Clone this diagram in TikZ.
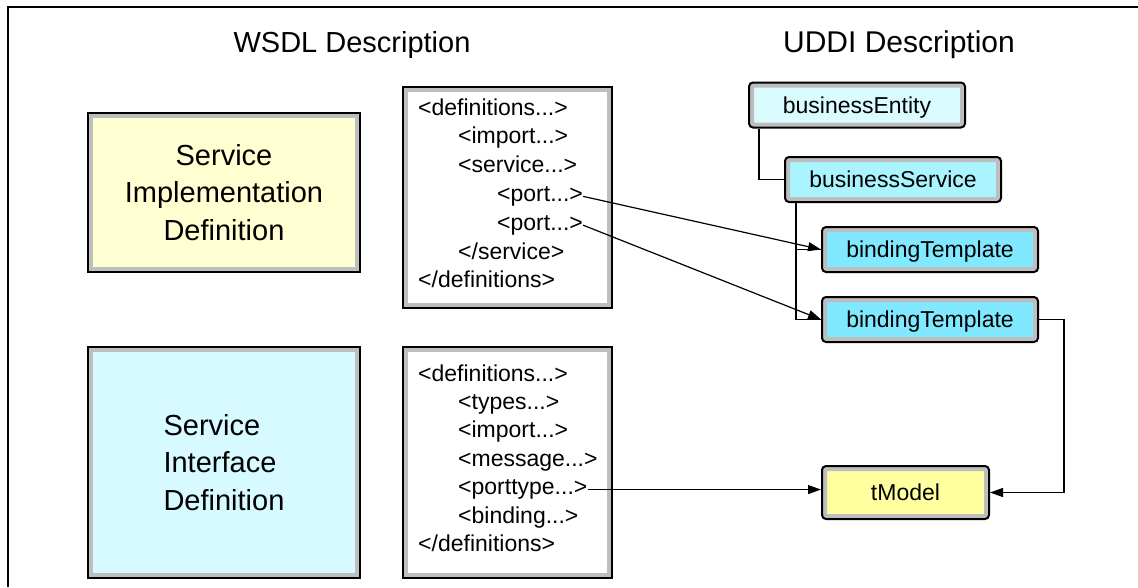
\documentclass[tikz,border=0pt]{standalone}
\usepackage{fontspec}
\setmainfont{Liberation Sans}
\usetikzlibrary{positioning, arrows.meta, calc}
\definecolor{wsimpl}{HTML}{FFFFD2}
\definecolor{wsiface}{HTML}{D6FAFF}
\definecolor{udentity}{HTML}{DAFCFF}
\definecolor{udservice}{HTML}{A9F4FF}
\definecolor{udbinding}{HTML}{80E9FF}
\definecolor{udtmodel}{HTML}{FFFFA0}
\definecolor{wsband}{HTML}{BEBEBE}

\tikzset{
  band/.style={path picture={\draw[wsband, line width=10, #1]
      (path picture bounding box.south west) rectangle (path picture bounding box.north east);}},
  wsbox/.style={draw=black, line width=2, band={}, inner sep=0},
  udbox/.style={draw=black, line width=2, rounded corners=4, band={rounded corners=4},
      inner sep=0, text height=17, text depth=1, minimum width=216, minimum height=45,
      font=\fontsize{23}{28}\selectfont},
  codeline/.style={anchor=base west, inner sep=0, font=\fontsize{23}{28}\selectfont},
  bigtext/.style={font=\fontsize{29}{37.5}\selectfont},
  conn/.style={line width=1.2},
  arr/.style={conn, -{Triangle[length=13, width=9]}}
}

\begin{document}
\begin{tikzpicture}[x=1pt, y=-1pt]
  \useasboundingbox (0,0) rectangle (1138,587);
  \draw[line width=2] (8,587) -- (8,7) -- (1138,7);

  % titles
  \node[bigtext] (wsdltitle) at (352,45) {WSDL Description};
  \node[bigtext, font=\fontsize{30}{37.5}\selectfont] (udditle) at (899,45) {UDDI Description};

  % WSDL side
  \node[wsbox, fill=wsimpl, minimum width=272, minimum height=159, bigtext, align=center]
    (impl) at (224,192.5) {Service\\Implementation\\Definition};
  \node[wsbox, fill=wsiface, minimum width=272, minimum height=231, bigtext, align=left]
    (iface) at (224,462.5) {Service\\Interface\\Definition};

  \node[wsbox, fill=white, minimum width=209, minimum height=221] (implcode) at (507.5,197.5) {};
  \node[codeline] (idefs) at (418,115) {<definitions...>};
  \node[codeline] (iimport) at (458,143.8) {<import...>};
  \node[codeline] (iservice) at (458,172.6) {<service...>};
  \node[codeline] (iport1) at (497,201.4) {<port...>};
  \node[codeline] (iport2) at (497,230.2) {<port...>};
  \node[codeline] (iservend) at (458,259) {</service>};
  \node[codeline] (idefsend) at (418,287.8) {</definitions>};

  \node[wsbox, fill=white, minimum width=209, minimum height=231] (ifacecode) at (507.5,462.5) {};
  \node[codeline] (fdefs) at (418,381) {<definitions...>};
  \node[codeline] (ftypes) at (458,409.4) {<types...>};
  \node[codeline] (fimport) at (458,437.8) {<import...>};
  \node[codeline] (fmessage) at (458,466.2) {<message...>};
  \node[codeline] (fporttype) at (458,494.6) {<porttype...>};
  \node[codeline] (fbinding) at (458,523) {<binding...>};
  \node[codeline] (fdefsend) at (418,551.4) {</definitions>};

  % UDDI side
  \node[udbox, fill=udentity] (entity) at (857,105) {businessEntity};
  \node[udbox, fill=udservice] (bservice) at (893,179.5) {businessService};
  \node[udbox, fill=udbinding] (bt1) at (930,249.5) {bindingTemplate};
  \node[udbox, fill=udbinding] (bt2) at (930,319.5) {bindingTemplate};
  \node[udbox, fill=udtmodel, minimum width=167, minimum height=53] (tmodel) at (905.5,492.5) {tModel};

  % tree lines
  \draw[conn] ($(entity.south west)+(11,0)$) |- (bservice.west);
  \draw[conn] ($(bservice.south west)+(12,0)$) |- (bt1.west);
  \draw[conn] ($(bservice.south west)+(12,0)$) |- (bt2.west);

  % references
  \draw[arr] (iport1.east) -- (bt1.west);
  \draw[arr] (iport2.east) -- (bt2.west);
  \draw[arr] (fporttype.east) -- (fporttype.east -| tmodel.west);
  \draw[arr] (bt2.east) -- ++(25,0) |- (tmodel.east);
\end{tikzpicture}
\end{document}
